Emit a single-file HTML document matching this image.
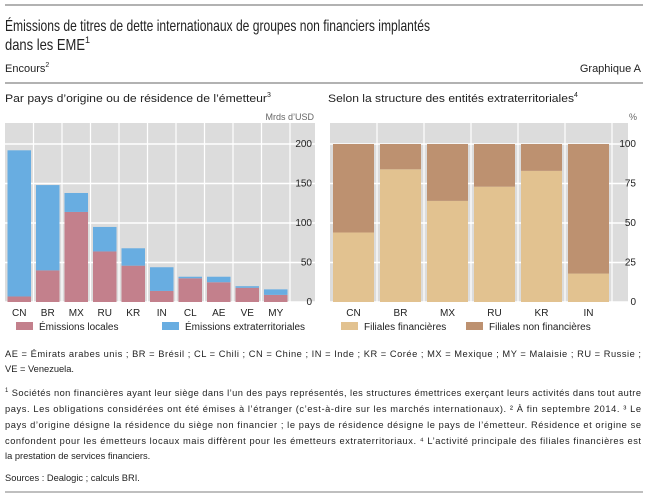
<!DOCTYPE html>
<html><head><meta charset="utf-8"><style>
html,body{margin:0;padding:0;background:#fff;}
svg{display:block;font-family:"Liberation Sans",sans-serif;}
</style></head><body>
<svg id="s" width="648" height="499" viewBox="0 0 648 499">
<line x1="5" y1="5" x2="643" y2="5" stroke="#999" stroke-width="1.5"/>
<text x="5" y="31" font-size="16" fill="#222" textLength="425" lengthAdjust="spacingAndGlyphs">Émissions de titres de dette internationaux de groupes non financiers implantés</text>
<text x="5" y="50" font-size="16" fill="#222"><tspan textLength="80" lengthAdjust="spacingAndGlyphs">dans les EME</tspan><tspan font-size="9" dy="-7">1</tspan></text>
<text x="5" y="72" font-size="11" fill="#222">Encours<tspan font-size="7" dy="-5">2</tspan></text>
<text x="641" y="72" font-size="11" fill="#222" text-anchor="end">Graphique A</text>
<line x1="5" y1="83" x2="643" y2="83" stroke="#999" stroke-width="1.5"/>
<text x="5" y="102" font-size="11" fill="#222"><tspan textLength="262" lengthAdjust="spacingAndGlyphs">Par pays d’origine ou de résidence de l’émetteur</tspan><tspan font-size="7" dy="-5">3</tspan></text>
<text x="328" y="102" font-size="11" fill="#222"><tspan textLength="246" lengthAdjust="spacingAndGlyphs">Selon la structure des entités extraterritoriales</tspan><tspan font-size="7" dy="-5">4</tspan></text>
<text x="314" y="120" font-size="9" fill="#666" text-anchor="end">Mrds d’USD</text>
<text x="637" y="120" font-size="9" fill="#666" text-anchor="end">%</text>
<g id="left"></g>
<g id="right"></g>
<g font-size="9.3" fill="#222">
<text x="5" y="357" textLength="636">AE = Émirats arabes unis ;  BR = Brésil ;  CL = Chili ;  CN = Chine ;  IN = Inde ;  KR = Corée ;  MX = Mexique ;  MY = Malaisie ;  RU = Russie ;</text>
<text x="5" y="372">VE = Venezuela.</text>
<text x="5" y="396" textLength="636"><tspan font-size="6" dy="-4">1</tspan><tspan dy="4">  Sociétés non financières ayant leur siège dans l’un des pays représentés, les structures émettrices exerçant leurs activités dans tout autre</tspan></text>
<text x="5" y="412" textLength="636">pays. Les obligations considérées ont été émises à l’étranger (c’est-à-dire sur les marchés internationaux).   ² À fin septembre 2014.   ³ Le</text>
<text x="5" y="428" textLength="636">pays d’origine désigne la résidence du siège non financier ; le pays de résidence désigne le pays de l’émetteur. Résidence et origine se</text>
<text x="5" y="444" textLength="636">confondent pour les émetteurs locaux mais diffèrent pour les émetteurs extraterritoriaux.   ⁴ L’activité principale des filiales financières est</text>
<text x="5" y="459">la prestation de services financiers.</text>
<text x="5" y="481">Sources : Dealogic ; calculs BRI.</text>
</g>
<line x1="5" y1="492" x2="643" y2="492" stroke="#aaa" stroke-width="1.5"/>
</svg>
<script>
const leftCats=["CN","BR","MX","RU","KR","IN","CL","AE","VE","MY"];
const leftLocal=[7,40,114,64,46,14,30,25,18,9];
const leftExtra=[185,108,24,31,22,30,2,7,2,7];
const leftTicks=[0,50,100,150,200];
const rightCats=["CN","BR","MX","RU","KR","IN"];
const rightFin=[44,84,64,73,83,18];
const rightTicks=[0,25,50,75,100];
const NS="http://www.w3.org/2000/svg";
function mk(p,t,a){const e=document.createElementNS(NS,t);for(const k in a)e.setAttribute(k,a[k]);p.appendChild(e);return e;}
const y0=302;
function drawPanel(g,x0,x1,right,cats,max,ticks,ylab){
  const r=mk(g,"rect",{x:x0,y:123,width:right-x0,height:y0-123,fill:"#dcdcdc"});
  
  
  const ys=v=>y0-v/max*158;
  ticks.forEach(t=>{
    const l=mk(g,"line",{x1:x0,x2:right,y1:ys(t),y2:ys(t),stroke:"#fff","stroke-width":1.5});
    
    
    const tx=mk(g,"text",{x:ylab,y:ys(t)+3,"font-size":10,fill:"#222","text-anchor":"end"});
    tx.textContent=t;
    
    
  });
  const w=(x1-x0)/cats.length;
  for(let i=1;i<=cats.length;i++){
    const l=mk(g,"line",{x1:x0+i*w,x2:x0+i*w,y1:123,y2:y0,stroke:"#fff","stroke-width":1.2});
    
    
  }
  cats.forEach((c,i)=>{
    const t=mk(g,"text",{x:x0+(i+0.5)*w,y:316,"font-size":10,fill:"#222","text-anchor":"middle"});
    t.textContent=c;
    
    
  });
  return {ys,w};
}
const L=document.getElementById("left");
const a=drawPanel(L,5,290,315,leftCats,200,leftTicks,312);
leftCats.forEach((c,i)=>{
  const bx=5+i*a.w+2.5, bw=a.w-5;
  const r1=mk(L,"rect",{x:bx,y:a.ys(leftLocal[i]),width:bw,height:y0-a.ys(leftLocal[i]),fill:"#c3808c"});
  
  
  const tot=leftLocal[i]+leftExtra[i];
  const r2=mk(L,"rect",{x:bx,y:a.ys(tot),width:bw,height:a.ys(leftLocal[i])-a.ys(tot),fill:"#68ade1"});
  
  
});
const R=document.getElementById("right");
const b=drawPanel(R,330,612,628,rightCats,100,rightTicks,636);
rightCats.forEach((c,i)=>{
  const bx=330+i*b.w+3, bw=b.w-6;
  const r1=mk(R,"rect",{x:bx,y:b.ys(rightFin[i]),width:bw,height:y0-b.ys(rightFin[i]),fill:"#e2c290"});
  
  
  const r2=mk(R,"rect",{x:bx,y:b.ys(100),width:bw,height:b.ys(rightFin[i])-b.ys(100),fill:"#bd9170"});
  
  
});
function legend(g,x,col,label,name){
  const r=mk(g,"rect",{x:x,y:322,width:17,height:8,fill:col});
  
  
  const t=mk(g,"text",{x:x+23,y:330,"font-size":10,fill:"#222"});
  t.textContent=label;
  
  
}
legend(L,16,"#c3808c","Émissions locales","legend-local");
legend(L,162,"#68ade1","Émissions extraterritoriales","legend-extra");
legend(R,341,"#e2c290","Filiales financières","legend-financial");
legend(R,466,"#bd9170","Filiales non financières","legend-nonfinancial");
</script>
</body></html>
